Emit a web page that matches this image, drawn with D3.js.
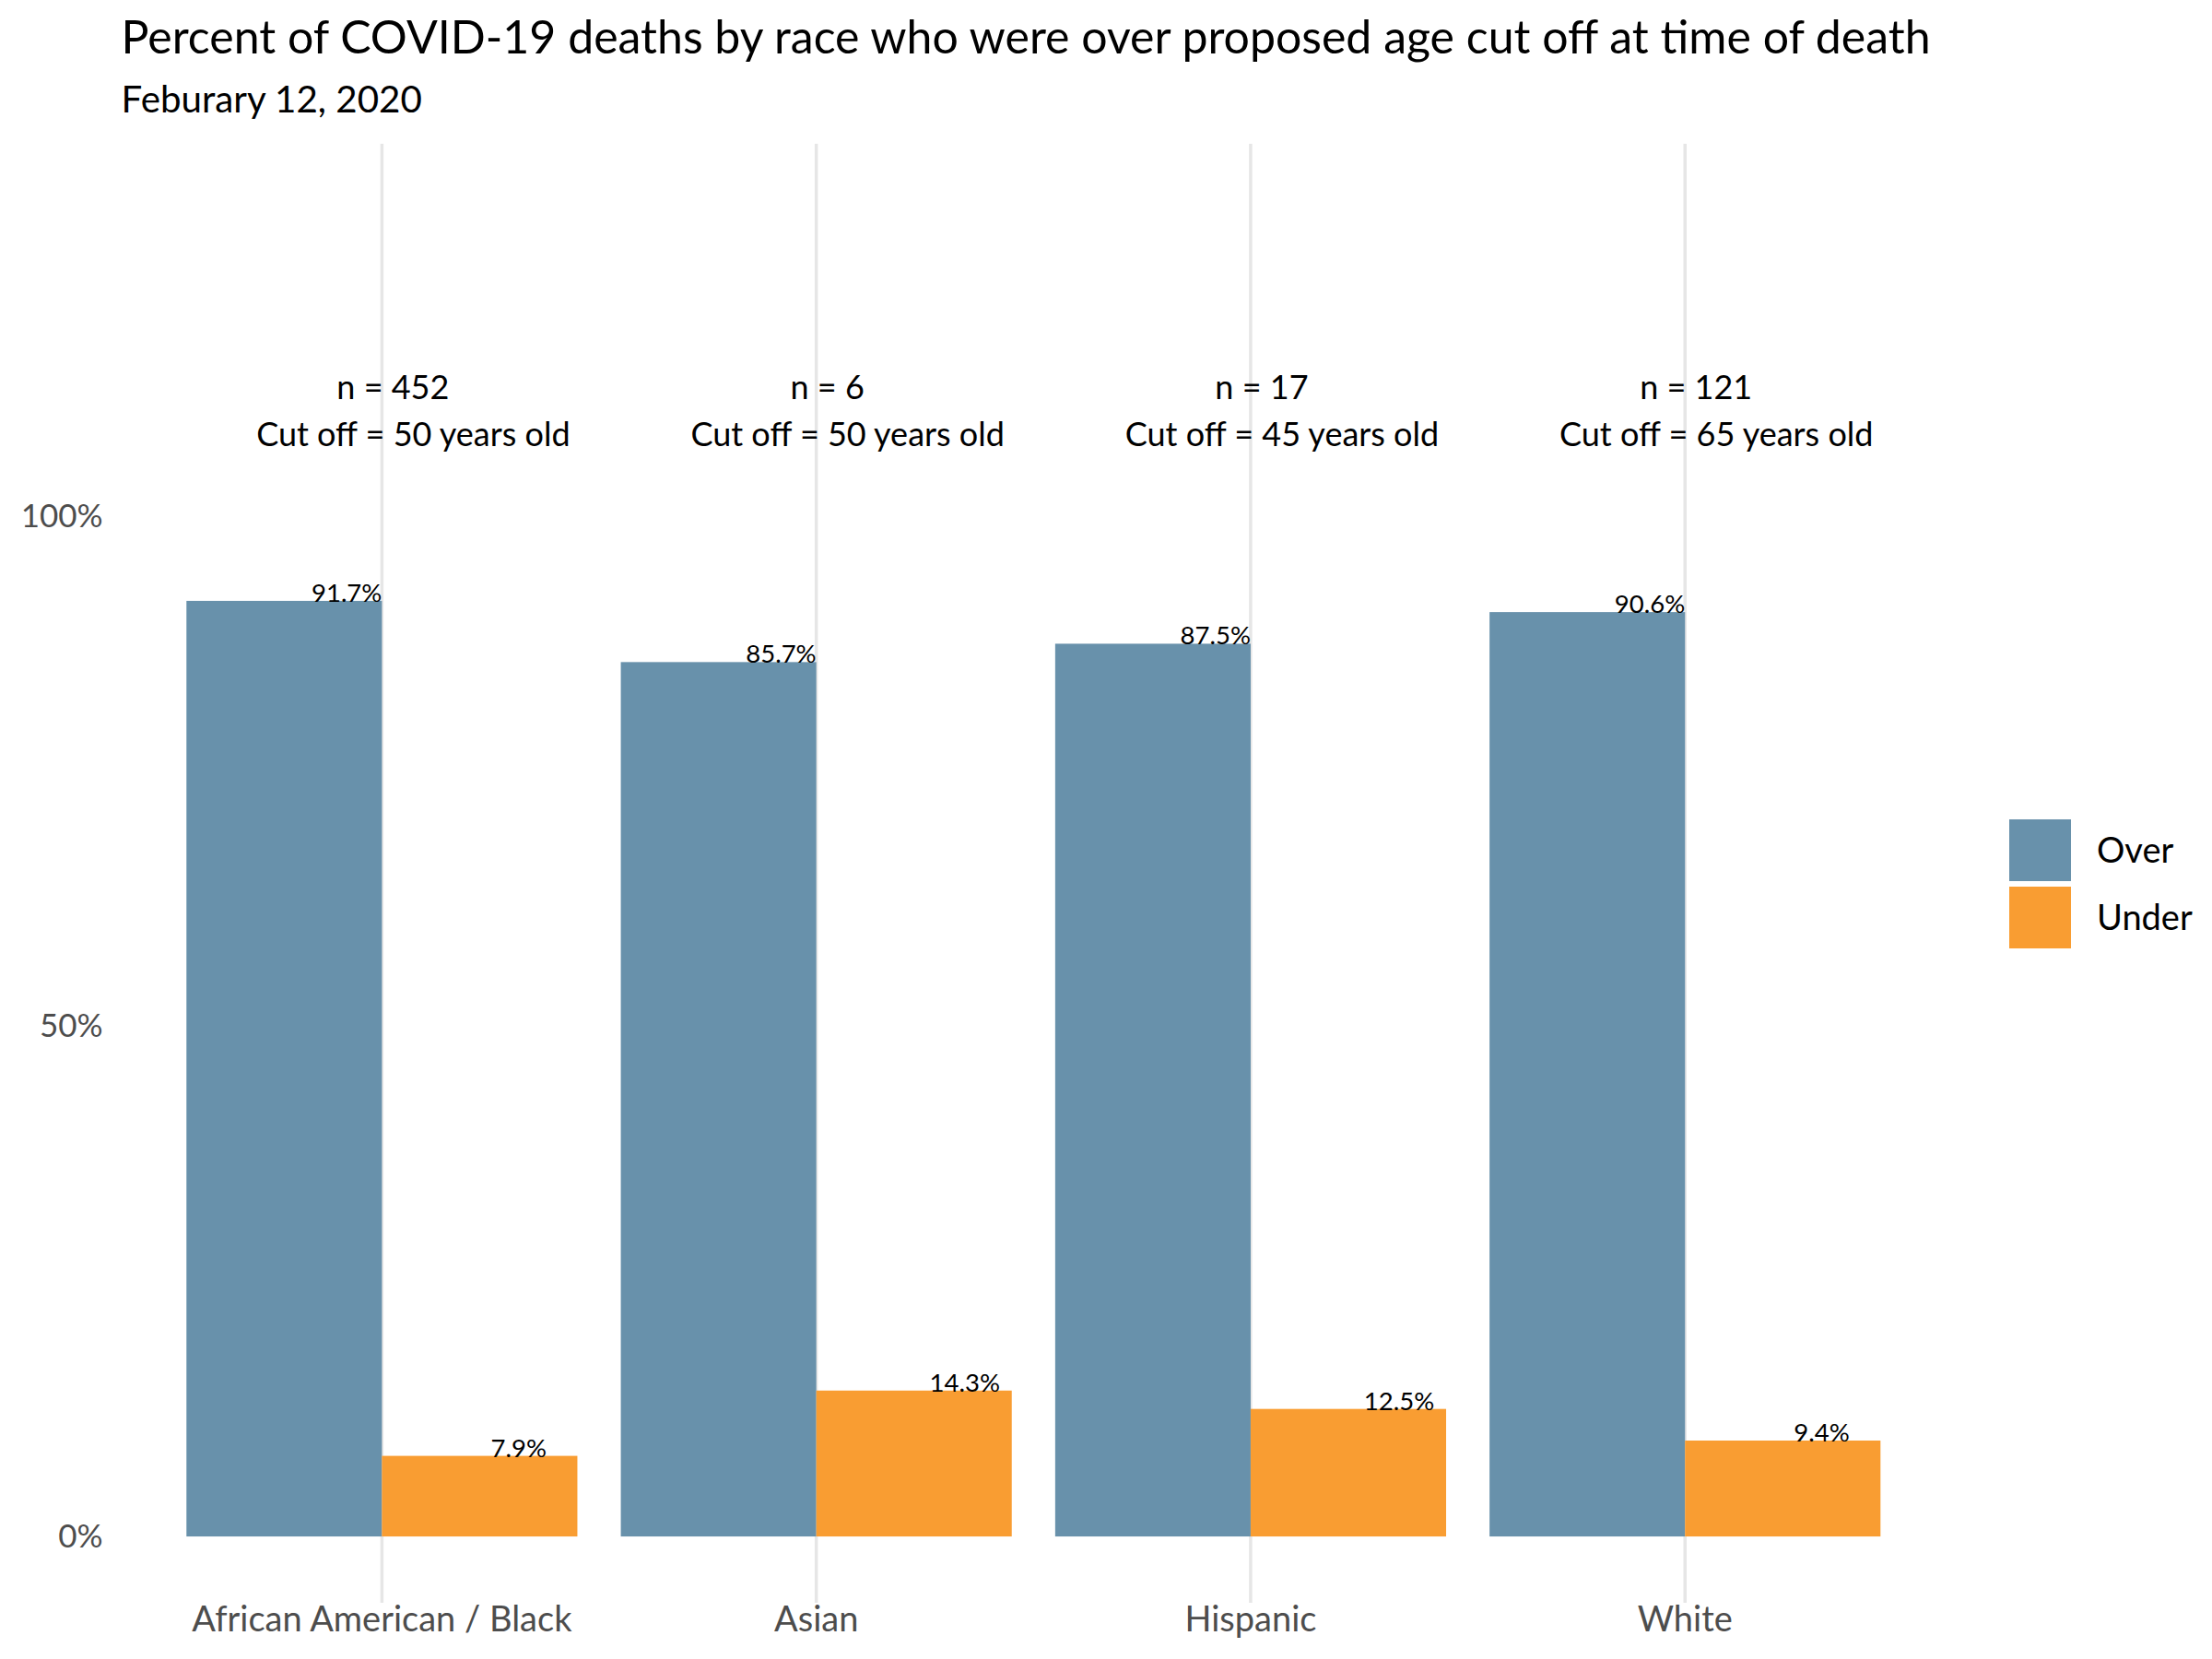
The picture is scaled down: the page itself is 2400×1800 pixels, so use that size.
<!DOCTYPE html>
<html>
<head>
<meta charset="utf-8">
<script src="https://cdn.jsdelivr.net/npm/d3@7"></script>
<style>
  html, body { margin: 0; padding: 0; background: #ffffff; }
  svg { display: block; font-family: Lato, "Open Sans", sans-serif; }
</style>
</head>
<body>
<svg id="chart" width="2400" height="1800"></svg>
<script>
// ---- data ----
const categories = ["African American / Black", "Asian", "Hispanic", "White"];
const groups = ["Over", "Under"];
const overValues = [0.917, 0.857, 0.875, 0.906];
const underValues = [0.079, 0.143, 0.125, 0.094];
const nCounts = [452, 6, 17, 121];
const cutoffAges = [50, 50, 45, 65];
const yTicks = [0, 0.5, 1];
const yTickLabels = ["0%", "50%", "100%"];
const groupColors = ["#6891ab", "#f99d32"];
const titleText = "Percent of COVID-19 deaths by race who were over proposed age cut off at time of death";
const subtitleText = "Feburary 12, 2020";

// ---- layout ----
const W = 2400, H = 1800;
const panel = { left: 131.6, right: 2111, top: 156, bottom: 1739 };

const svg = d3.select("#chart");
svg.append("rect").attr("width", W).attr("height", H).attr("fill", "#ffffff");

const x = d3.scaleBand()
  .domain(categories)
  .range([panel.left, panel.right])
  .paddingInner(0.1)
  .paddingOuter(0.15);

const xSub = d3.scaleBand().domain(groups).range([0, x.bandwidth()]);

const y = d3.scaleLinear().domain([-0.065, 1.365]).range([panel.bottom, panel.top]);

const color = d3.scaleOrdinal().domain(groups).range(groupColors);

const rows = categories.map((c, i) => ({
  cat: c,
  vals: [
    { g: "Over", v: overValues[i] },
    { g: "Under", v: underValues[i] }
  ],
  n: nCounts[i],
  cut: cutoffAges[i]
}));

// ---- vertical grid lines (x axis major grid) ----
svg.append("g").selectAll("line")
  .data(categories)
  .join("line")
  .attr("x1", d => x(d) + x.bandwidth() / 2)
  .attr("x2", d => x(d) + x.bandwidth() / 2)
  .attr("y1", panel.top)
  .attr("y2", panel.bottom)
  .attr("stroke", "#e6e6e6")
  .attr("stroke-width", 3.5);

// ---- bars ----
const gCat = svg.append("g").selectAll("g")
  .data(rows)
  .join("g")
  .attr("transform", d => `translate(${x(d.cat)},0)`);

gCat.selectAll("rect")
  .data(d => d.vals)
  .join("rect")
  .attr("x", d => xSub(d.g))
  .attr("width", xSub.bandwidth())
  .attr("y", d => y(d.v))
  .attr("height", d => y(0) - y(d.v))
  .attr("fill", d => color(d.g));

// ---- value labels ----
gCat.selectAll("text.val")
  .data(d => d.vals)
  .join("text")
  .attr("class", "val")
  .attr("font-size", 27.5)
  .attr("fill", "#000")
  .attr("y", d => y(d.v) + 1)
  .text(d => (d.v * 100).toFixed(1) + "%")
  .each(function(d) {
    const t = d3.select(this);
    if (d.g === "Over") {
      t.attr("text-anchor", "end").attr("x", xSub(d.g) + xSub.bandwidth());
    } else {
      const w = this.getComputedTextLength();
      t.attr("text-anchor", "start").attr("x", xSub(d.g) + 100 + 0.3 * w);
    }
  });

// ---- n / cutoff annotations ----
gCat.append("text")
  .attr("x", x.bandwidth() / 2 + 12)
  .attr("y", 433)
  .attr("text-anchor", "middle")
  .attr("font-size", 36)
  .attr("fill", "#000")
  .text(d => `n = ${d.n}`);

gCat.append("text")
  .attr("x", x.bandwidth() / 2 + 34)
  .attr("y", 484)
  .attr("text-anchor", "middle")
  .attr("font-size", 36)
  .attr("fill", "#000")
  .text(d => `Cut off = ${d.cut} years old`);

// ---- y axis ----
const yAxis = d3.axisLeft(y)
  .tickValues(yTicks)
  .tickFormat((d, i) => yTickLabels[i])
  .tickSize(0)
  .tickPadding(20);
const gy = svg.append("g").attr("transform", `translate(${panel.left},0)`).call(yAxis);
gy.select(".domain").remove();
gy.selectAll("text")
  .attr("font-family", "Lato, 'Open Sans', sans-serif")
  .attr("font-size", 35)
  .attr("fill", "#4d4d4d");

// ---- x axis ----
const xAxis = d3.axisBottom(x).tickSize(0).tickPadding(0);
const gx = svg.append("g").attr("transform", `translate(0,${panel.bottom})`).call(xAxis);
gx.select(".domain").remove();
gx.selectAll("text")
  .attr("font-family", "Lato, 'Open Sans', sans-serif")
  .attr("font-size", 38)
  .attr("fill", "#4d4d4d")
  .attr("dy", null)
  .attr("y", 31);

// ---- title & subtitle ----
svg.append("text")
  .attr("x", panel.left)
  .attr("y", 58)
  .attr("font-size", 50)
  .attr("fill", "#000")
  .text(titleText);

svg.append("text")
  .attr("x", panel.left)
  .attr("y", 122)
  .attr("font-size", 40.3)
  .attr("fill", "#000")
  .text(subtitleText);

// ---- legend ----
const legend = svg.append("g").attr("transform", "translate(2180,889)");
const li = legend.selectAll("g")
  .data(groups)
  .join("g")
  .attr("transform", (d, i) => `translate(0,${i * 73})`);
li.append("rect")
  .attr("width", 67)
  .attr("height", 67)
  .attr("fill", d => color(d));
li.append("text")
  .attr("x", 95)
  .attr("y", 34)
  .attr("dy", "0.35em")
  .attr("font-size", 38)
  .attr("fill", "#000")
  .text(d => d);
</script>
</body>
</html>
